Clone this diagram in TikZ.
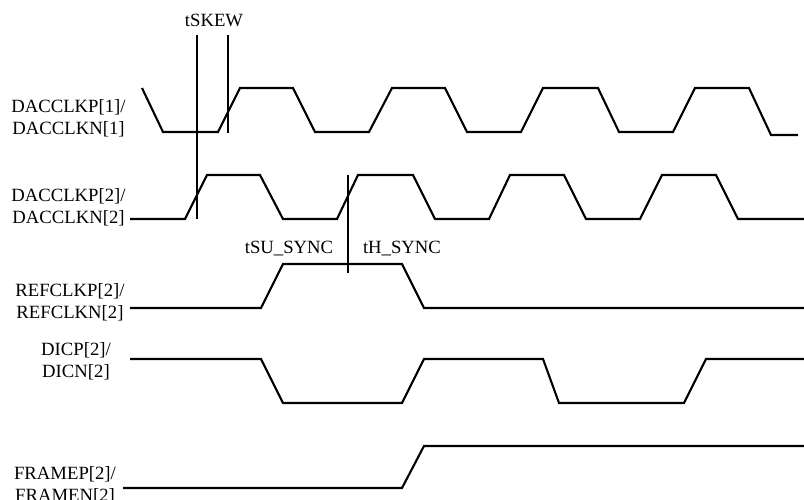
\documentclass[tikz,border=0pt]{standalone}
\usepackage{fontspec}
\setmainfont{Liberation Serif}
\begin{document}
\begin{tikzpicture}[x=1pt,y=-1pt,
  wave/.style={line width=2.1pt, line join=miter},
  marker/.style={line width=2.1pt},
  siglabel/.style={align=center, inner sep=0pt, font=\fontsize{18.7}{22}\selectfont},
  tlabel/.style={anchor=base, inner sep=0pt, font=\fontsize{18.7}{22}\selectfont}]
\useasboundingbox (0,0) rectangle (804,500);
% labels
\node[siglabel] (l1) at (68.5,118) {DACCLKP[1]/\\DACCLKN[1]};
\node[siglabel] (l2) at (68.5,207) {DACCLKP[2]/\\DACCLKN[2]};
\node[siglabel] (l3) at (70,302) {REFCLKP[2]/\\REFCLKN[2]};
\node[siglabel] (l4) at (76,361) {DICP[2]/\\DICN[2]};
\node[siglabel] (l5) at (65,485) {FRAMEP[2]/\\FRAMEN[2]};
\node[tlabel] (tskew) at (214,27) {tSKEW};
\node[tlabel] (tsu) at (289,253) {tSU\_SYNC};
\node[tlabel] (th) at (402,253) {tH\_SYNC};
% DACCLK 1
\draw[wave] (142,88) -- (163,132) -- (218,132) -- (240,88) -- (293,88) -- (315,132) -- (369,132) -- (392,88) -- (445,88) -- (467,132) -- (521,132) -- (543,88) -- (598,88) -- (619,132) -- (673,132) -- (695,88) -- (749,88) -- (771,135) -- (798,135);
% DACCLK 2
\draw[wave] (130,219) -- (185,219) -- (207,175) -- (260,175) -- (283,219) -- (337,219) -- (358,175) -- (413,175) -- (435,219) -- (489,219) -- (510,175) -- (564,175) -- (586,219) -- (640,219) -- (662,175) -- (716,175) -- (738,219) -- (804,219);
% REFCLK
\draw[wave] (130,308) -- (261,308) -- (283,264) -- (402,264) -- (424,308) -- (804,308);
% DICP
\draw[wave] (130,359) -- (261,359) -- (283,403) -- (402,403) -- (424,359) -- (543,359) -- (559,403) -- (684,403) -- (706,359) -- (804,359);
% FRAME
\draw[wave] (123,488) -- (402,488) -- (424,446) -- (804,446);
% markers
\draw[marker] (197,35) -- (197,219);
\draw[marker] (228,35) -- (228,133);
\draw[marker] (348,175) -- (348,273);
\end{tikzpicture}
\end{document}
